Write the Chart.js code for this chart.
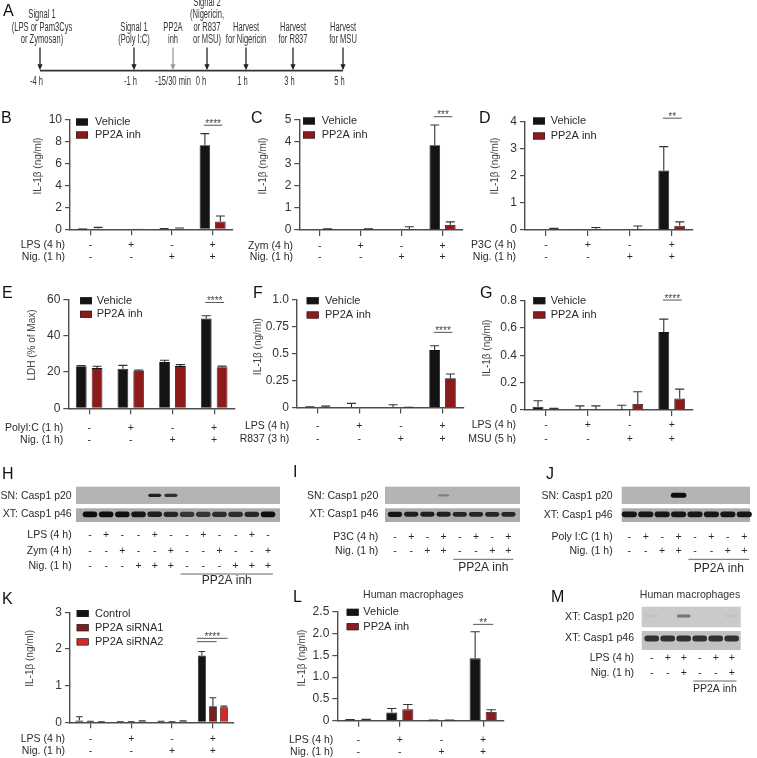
<!DOCTYPE html>
<html><head><meta charset="utf-8">
<script src="https://cdn.jsdelivr.net/npm/chart.js@4.4.1/dist/chart.umd.min.js"></script>
<style>
html,body{margin:0;padding:0;background:#fff}
#fig{position:relative;width:757px;height:758px;overflow:hidden;background:#fff;font-family:"Liberation Sans",Arial,Helvetica,sans-serif}
.lt{position:absolute;font-size:16px;line-height:16px;color:#111;white-space:nowrap}
.tt{position:absolute;font-size:10.5px;line-height:12px;color:#333;white-space:nowrap;transform:translateX(-50%)}
</style></head>
<body><div id="fig"></div>
<script>
// ================= DATA =================
// Panel A timeline
const timelineTimes = ['-4 h', '-1 h', '-15/30 min', '0 h', '1 h', '3 h', '5 h'];
const timelineEvents = [
  ['Signal 1', '(LPS or Pam3Cys', 'or Zymosan)'],
  ['Signal 1', '(Poly I:C)'],
  ['PP2A', 'inh'],
  ['Signal 2', '(Nigericin,', 'or R837', 'or MSU)'],
  ['Harvest', 'for Nigericin'],
  ['Harvest', 'for R837'],
  ['Harvest', 'for MSU']
];
const conditionGroups = ['1', '2', '3', '4'];
const signsA = ['-', '+', '-', '+'];
const signsB = ['-', '-', '+', '+'];

// Panel B
const bVehicle = [0.01, 0, 0.05, 7.7], bVehicleSD = [0.01, 0, 0.03, 1.05];
const bInh = [0.08, 0.01, 0.07, 0.72], bInhSD = [0.1, 0, 0.05, 0.5];
const bTicks = [0, 2, 4, 6, 8, 10];
const bRows = ['LPS (4 h)', 'Nig. (1 h)'];
// Panel C
const cVehicle = [0, 0, 0, 3.85], cVehicleSD = [0, 0, 0, 0.92];
const cInh = [0.05, 0.04, 0.05, 0.23], cInhSD = [0.01, 0.01, 0.1, 0.14];
const cTicks = [0, 1, 2, 3, 4, 5];
const cRows = ['Zym (4 h)', 'Nig. (1 h)'];
// Panel D
const dVehicle = [0, 0.03, 0, 2.2], dVehicleSD = [0, 0, 0, 0.88];
const dInh = [0.03, 0.04, 0.04, 0.16], dInhSD = [0.03, 0.05, 0.11, 0.14];
const dTicks = [0, 1, 2, 3, 4];
const dRows = ['P3C (4 h)', 'Nig. (1 h)'];
// Panel E
const eVehicle = [23.1, 21.8, 25.4, 49.4], eVehicleSD = [0.4, 1.8, 1.0, 1.5];
const eInh = [22.1, 20.5, 23.2, 22.6], eInhSD = [1.0, 0.5, 0.8, 0.6];
const eTicks = [0, 20, 40, 60];
const eRows = ['PolyI:C (1 h)', 'Nig. (1 h)'];
// Panel F
const fVehicle = [0.005, 0.003, 0.003, 0.53], fVehicleSD = [0.002, 0.035, 0.022, 0.04];
const fInh = [0.005, 0, 0, 0.27], fInhSD = [0.008, 0, 0.003, 0.04];
const fTicks = [0, 0.25, 0.5, 0.75, 1.0];
const fTickLabels = ['0', '0.25', '0.5', '0.75', '1.0'];
const fRows = ['LPS (4 h)', 'R837 (3 h)'];
// Panel G
const gVehicle = [0.024, 0, 0, 0.57], gVehicleSD = [0.044, 0.03, 0.035, 0.095];
const gInh = [0, 0, 0.044, 0.085], gInhSD = [0.012, 0.03, 0.09, 0.068];
const gTicks = [0, 0.2, 0.4, 0.6, 0.8];
const gTickLabels = ['0', '0.2', '0.4', '0.6', '0.8'];
const gRows = ['LPS (4 h)', 'MSU (5 h)'];
// Panel K
const kControl = [0.05, 0.01, 0.02, 1.82], kControlSD = [0.1, 0.005, 0.01, 0.11];
const kSi1 = [0.02, 0.01, 0.01, 0.44], kSi1SD = [0.01, 0.005, 0.005, 0.23];
const kSi2 = [0.01, 0.03, 0.03, 0.41], kSi2SD = [0.005, 0.01, 0.01, 0.03];
const kTicks = [0, 1, 2, 3];
const kRows = ['LPS (4 h)', 'Nig. (1 h)'];
// Panel L
const lVehicle = [0.02, 0.19, 0.01, 1.43], lVehicleSD = [0.005, 0.09, 0.005, 0.61];
const lInh = [0.02, 0.26, 0.01, 0.2], lInhSD = [0.01, 0.11, 0.005, 0.05];
const lTicks = [0, 0.5, 1, 1.5, 2, 2.5];
const lTickLabels = ['0', '0.5', '1.0', '1.5', '2.0', '2.5'];
const lRows = ['LPS (4 h)', 'Nig. (1 h)'];

// Blots (lane conditions and estimated band intensities 0..1)
const hLanes = ['1','2','3','4','5','6','7','8','9','10','11','12'];
const hLPS = ['-','+','-','-','+','-','-','+','-','-','+','-'];
const hZym = ['-','-','+','-','-','+','-','-','+','-','-','+'];
const hNig = ['-','-','-','+','+','+','-','-','-','+','+','+'];
const hP20 = [0,0,0,0,0.9,0.8,0,0,0,0,0,0];
const hP46 = [1,1,1,0.95,0.9,0.85,0.75,0.75,0.8,0.8,0.85,1];
const iLanes = ['1','2','3','4','5','6','7','8'];
const iP3C = ['-','+','-','+','-','+','-','+'];
const iNig = ['-','-','+','+','-','-','+','+'];
const iP20 = [0,0,0,0.3,0,0,0,0];
const iP46 = [0.95,0.9,0.9,0.9,0.85,0.85,0.85,0.85];
const jLanes = ['1','2','3','4','5','6','7','8'];
const jPolyIC = ['-','+','-','+','-','+','-','+'];
const jNig = ['-','-','+','+','-','-','+','+'];
const jP20 = [0,0,0,1,0,0,0,0];
const jP46 = [0.95,0.95,0.95,0.95,0.95,0.95,0.95,0.95];
const mLanes = ['1','2','3','4','5','6'];
const mLPS = ['-','+','+','-','+','+'];
const mNig = ['-','-','+','-','-','+'];
const mP20 = [0.05,0,0.45,0,0,0.05];
const mP46 = [0.8,0.8,0.8,0.8,0.8,0.8];

// ================= STYLE / LAYOUT =================
const FONT = '"Liberation Sans", Arial, Helvetica, sans-serif';
const AX = '#4d4d4d', TXT = '#2a2a2a';
const BLACK = '#141414', RED = '#8e1b1b', DARKRED = '#7a1e1e', BRIGHTRED = '#d02a2a';
Chart.defaults.font.family = FONT;
Chart.defaults.color = TXT;
const fig = document.getElementById('fig');

// schematic positions of the timeline arrows (layout, not data)
const TL_POS = [40, 134, 173, 207, 246, 293, 343];

function mkCanvas(box) {
  const [x0, y0, x1, y1] = box;
  const c = document.createElement('canvas');
  c.width = x1 - x0; c.height = y1 - y0;
  c.style.cssText = `position:absolute;left:${x0}px;top:${y0}px;width:${x1-x0}px;height:${y1-y0}px`;
  fig.appendChild(c);
  return c;
}
function txt(ctx, s, x, y, size, align, color, base) {
  ctx.font = `${size}px ${FONT}`;
  ctx.fillStyle = color || TXT;
  ctx.textAlign = align || 'center';
  ctx.textBaseline = base || 'middle';
  ctx.fillText(s, x, y);
}

function barChart(L, S) {
  const [bx0, by0, bx1, by1] = L.box;
  const canvas = mkCanvas(L.box);
  const px = x => x - bx0, py = y => y - by0;
  const plugin = {
    id: 'panel',
    afterDatasetsDraw(chart) {
      const ctx = chart.ctx, xs = chart.scales.x, ys = chart.scales.y;
      ctx.save();
      // error bars (upper only)
      chart.data.datasets.forEach((ds, di) => {
        const meta = chart.getDatasetMeta(di);
        meta.data.forEach((bar, i) => {
          const sd = ds.sd[i]; if (!sd) return;
          const yt = ys.getPixelForValue(ds.data[i] + sd);
          const hw = bar.width * 0.42;
          ctx.strokeStyle = '#333'; ctx.lineWidth = 1.1;
          ctx.beginPath();
          ctx.moveTo(bar.x, bar.y); ctx.lineTo(bar.x, yt);
          ctx.moveTo(bar.x - hw, yt); ctx.lineTo(bar.x + hw, yt);
          ctx.stroke();
        });
      });
      // significance
      (S.sig || []).forEach(s => {
        const xa = chart.getDatasetMeta(s.a).data[s.group].x + (s.dx1 ?? -1);
        const xb = chart.getDatasetMeta(s.b).data[s.group].x + (s.dx2 ?? 2);
        const y = ys.getPixelForValue(s.y);
        ctx.strokeStyle = '#555'; ctx.lineWidth = 1;
        ctx.beginPath(); ctx.moveTo(xa, y); ctx.lineTo(xb, y); ctx.stroke();
        if (s.text) txt(ctx, s.text, (xa + xb) / 2, y + 1.5, 10, 'center', '#444', 'alphabetic');
      });
      // legend
      S.series.forEach((s, j) => {
        const y = py(L.legY[j]);
        ctx.fillStyle = s.color;
        ctx.fillRect(px(L.legX), y - 3.5, 12, 7);
        ctx.strokeStyle = '#222'; ctx.lineWidth = 0.6;
        ctx.strokeRect(px(L.legX) + 0.3, y - 3.2, 11.4, 6.4);
        txt(ctx, s.label, px(L.legTextX), y, 11, 'left');
      });
      // y title
      ctx.save();
      ctx.translate(px(L.yTitle[0]), py(L.yTitle[1]));
      ctx.rotate(-Math.PI / 2);
      txt(ctx, S.yTitle, 0, 0, 10, 'center', '#444');
      ctx.restore();
      // condition rows
      S.rows.forEach((r, k) => {
        const y = py(L.rowY[k]);
        txt(ctx, r, px(L.rowRight), y, 10.5, 'right');
        S.signs[k].forEach((sg, i) => txt(ctx, sg, xs.getPixelForValue(i), y, 10.5, 'center'));
      });
      ctx.restore();
    }
  };
  return new Chart(canvas, {
    type: 'bar',
    data: {
      labels: S.categories,
      datasets: S.series.map(s => ({
        label: s.label, data: s.data, sd: s.sd,
        backgroundColor: s.color, borderColor: '#1a1212', borderWidth: 0.8,
        categoryPercentage: L.cp, barPercentage: L.bp
      }))
    },
    options: {
      responsive: false, animation: false, events: [],
      layout: { padding: { left: 0, top: L.topY - by0, right: bx1 - L.rightX, bottom: 0 } },
      plugins: { legend: { display: false }, tooltip: { enabled: false } },
      scales: {
        x: {
          type: 'category', offset: true,
          grid: { offset: false, drawOnChartArea: false, drawTicks: true, tickLength: 6, color: AX, lineWidth: 1.2 },
          border: { color: AX, width: 1.4 },
          ticks: { display: false },
          afterFit: s => { s.height = by1 - L.axisY; }
        },
        y: {
          min: 0, max: S.yMax,
          afterBuildTicks: s => { s.ticks = S.ticks.map(v => ({ value: v })); },
          ticks: { callback: (v, i) => S.tickLabels ? S.tickLabels[i] : String(v), font: { size: 12 }, color: '#333', padding: 3 },
          grid: { drawOnChartArea: false, tickLength: 5, color: AX, lineWidth: 1.2 },
          border: { color: AX, width: 1.4 },
          afterFit: s => { s.width = L.axisX - bx0; }
        }
      }
    },
    plugins: [plugin]
  });
}

function blotChart(L, S) {
  const [bx0, by0, bx1, by1] = L.box;
  const canvas = mkCanvas(L.box);
  const px = x => x - bx0, py = y => y - by0;
  const first = L.strips[0], last = L.strips[L.strips.length - 1];
  const plugin = {
    id: 'blot',
    afterDraw(chart) {
      const ctx = chart.ctx, xs = chart.scales.x;
      const sp = xs.getPixelForValue(1) - xs.getPixelForValue(0);
      ctx.save();
      L.strips.forEach((st, k) => {
        ctx.fillStyle = st.color;
        ctx.fillRect(px(L.stripX[0]), py(st.y0), L.stripX[1] - L.stripX[0], st.y1 - st.y0);
        const cy = (py(st.y0) + py(st.y1)) / 2 + (st.dy || 0);
        S.strips[k].intensity.forEach((v, i) => {
          if (v <= 0) return;
          const x = xs.getPixelForValue(i);
          const w = sp * (st.bw || 0.86);
          const h = st.bh * (0.55 + 0.45 * v);
          ctx.filter = 'blur(0.7px)';
          ctx.fillStyle = `rgba(14,14,14,${Math.min(1, v)})`;
          ctx.beginPath();
          ctx.roundRect(x - w / 2, cy - h / 2, w, h, h / 2);
          ctx.fill();
          ctx.filter = 'none';
        });
        txt(ctx, S.strips[k].label, px(L.labelRight), py(st.labelY), 10.5, 'right');
      });
      S.rows.forEach((r, k) => {
        const y = py(L.rowY[k]);
        txt(ctx, r, px(L.rowRight), y, 10.5, 'right');
        S.signs[k].forEach((sg, i) => txt(ctx, sg, xs.getPixelForValue(i), y, 10.5, 'center'));
      });
      const xa = xs.getPixelForValue(S.bracket.from) - 0.4 * sp;
      const xb = xs.getPixelForValue(S.bracket.to) + 0.3 * sp;
      ctx.strokeStyle = '#666'; ctx.lineWidth = 1;
      ctx.beginPath(); ctx.moveTo(xa, py(L.bracketY)); ctx.lineTo(xb, py(L.bracketY)); ctx.stroke();
      txt(ctx, S.bracket.text, (xa + xb) / 2, py(L.bracketTextY), L.bracketFont, 'center');
      ctx.restore();
    }
  };
  return new Chart(canvas, {
    type: 'bar',
    data: { labels: S.lanes, datasets: S.strips.map(s => ({ label: s.label, data: s.intensity, backgroundColor: 'rgba(0,0,0,0)' })) },
    options: {
      responsive: false, animation: false, events: [],
      layout: { padding: { left: px(L.laneL), right: bx1 - L.laneR, top: py(first.y0), bottom: by1 - last.y1 } },
      plugins: { legend: { display: false }, tooltip: { enabled: false } },
      scales: { x: { display: false }, y: { display: false, min: 0, max: 1 } }
    },
    plugins: [plugin]
  });
}

function timelineChart() {
  const canvas = mkCanvas([0, 0, 757, 100]);
  const plugin = {
    id: 'timeline',
    afterDraw(chart) {
      const ctx = chart.ctx, xs = chart.scales.x;
      const LY = 70.7;
      ctx.save();
      const x0 = xs.getPixelForValue(TL_POS[0]), x1 = xs.getPixelForValue(TL_POS[TL_POS.length - 1]);
      ctx.strokeStyle = '#333'; ctx.lineWidth = 1.8;
      ctx.beginPath(); ctx.moveTo(x0, LY); ctx.lineTo(x1, LY); ctx.stroke();
      const cond = (s, x, y) => {
        ctx.save(); ctx.translate(x, y); ctx.scale(0.63, 1);
        txt(ctx, s, 0, 0, 12, 'center', '#333'); ctx.restore();
      };
      timelineEvents.forEach((lines, i) => {
        const x = xs.getPixelForValue(TL_POS[i]);
        const col = i === 2 ? '#9a9a9a' : '#222';
        ctx.strokeStyle = col; ctx.fillStyle = col; ctx.lineWidth = 1.3;
        ctx.beginPath(); ctx.moveTo(x, 47.5); ctx.lineTo(x, LY - 4); ctx.stroke();
        ctx.beginPath(); ctx.moveTo(x - 2.6, LY - 6.5); ctx.lineTo(x + 2.6, LY - 6.5); ctx.lineTo(x, LY - 0.5); ctx.closePath(); ctx.fill();
        const n = lines.length;
        lines.forEach((s, k) => cond(s, x + (i === 0 ? 2 : 0), 40 - (n - 1 - k) * 12.5));
        cond(timelineTimes[i], x - (i === 2 ? 0 : i === 3 ? 6 : 3.5), 82);
      });
      ctx.restore();
    }
  };
  new Chart(canvas, {
    type: 'scatter',
    data: { datasets: [{ data: TL_POS.map(p => ({ x: p, y: 0.5 })), pointRadius: 0 }] },
    options: {
      responsive: false, animation: false, events: [],
      layout: { padding: 0 },
      plugins: { legend: { display: false }, tooltip: { enabled: false } },
      scales: { x: { type: 'linear', display: false, min: 0, max: 757 }, y: { display: false, min: 0, max: 1 } }
    },
    plugins: [plugin]
  });
}

// ================= BUILD =================
timelineChart();

const vehInh = (v, vsd, p, psd) => [
  { label: 'Vehicle', data: v, sd: vsd, color: BLACK },
  { label: 'PP2A inh', data: p, sd: psd, color: RED }
];
const L2 = { cp: 0.76, bp: 0.68 };

barChart({ ...L2, box: [18, 106, 246, 263], axisX: 70, axisY: 229.3, topY: 120, rightX: 233, yTitle: [38, 166],
  legX: 76, legY: [122, 135], legTextX: 95, rowRight: 65, rowY: [245, 257] },
  { categories: conditionGroups, series: vehInh(bVehicle, bVehicleSD, bInh, bInhSD), yMax: 10, ticks: bTicks,
    yTitle: 'IL-1β (ng/ml)', rows: bRows, signs: [signsA, signsB], sig: [{ group: 3, a: 0, b: 1, y: 9.52, text: '****' }] });

barChart({ ...L2, box: [246, 106, 474, 263], axisX: 299.3, axisY: 230, topY: 120, rightX: 463, yTitle: [263, 166],
  legX: 303, legY: [121, 135], legTextX: 321.7, rowRight: 293, rowY: [246, 257] },
  { categories: conditionGroups, series: vehInh(cVehicle, cVehicleSD, cInh, cInhSD), yMax: 5, ticks: cTicks,
    yTitle: 'IL-1β (ng/ml)', rows: cRows, signs: [signsA, signsB], sig: [{ group: 3, a: 0, b: 1, y: 5.15, text: '***' }] });

barChart({ ...L2, box: [466, 106, 702, 263], axisX: 525, axisY: 230, topY: 121.7, rightX: 692.7, yTitle: [495, 166],
  legX: 533, legY: [121, 136], legTextX: 550.7, rowRight: 516, rowY: [245, 256.7] },
  { categories: conditionGroups, series: vehInh(dVehicle, dVehicleSD, dInh, dInhSD), yMax: 4, ticks: dTicks,
    yTitle: 'IL-1β (ng/ml)', rows: dRows, signs: [signsA, signsB], sig: [{ group: 3, a: 0, b: 1, y: 4.13, text: '**' }] });

barChart({ ...L2, box: [0, 289, 246, 448], axisX: 68.3, axisY: 408.3, topY: 298.3, rightX: 235, yTitle: [32.7, 345],
  legX: 80, legY: [300.7, 314.3], legTextX: 96.7, rowRight: 63.3, rowY: [427.7, 440] },
  { categories: conditionGroups, series: vehInh(eVehicle, eVehicleSD, eInh, eInhSD), yMax: 60, ticks: eTicks,
    yTitle: 'LDH (% of Max)', rows: eRows, signs: [signsA, signsB], sig: [{ group: 3, a: 0, b: 1, y: 58.2, text: '****' }] });

barChart({ ...L2, box: [228, 289, 474, 448], axisX: 297, axisY: 407.5, topY: 298.3, rightX: 463.3, yTitle: [258.3, 346.7],
  legX: 306.7, legY: [300.7, 315], legTextX: 325, rowRight: 289.3, rowY: [425.7, 439] },
  { categories: conditionGroups, series: vehInh(fVehicle, fVehicleSD, fInh, fInhSD), yMax: 1.0, ticks: fTicks, tickLabels: fTickLabels,
    yTitle: 'IL-1β (ng/ml)', rows: fRows, signs: [signsA, signsB], sig: [{ group: 3, a: 0, b: 1, y: 0.694, text: '****' }] });

barChart({ ...L2, box: [462, 289, 702, 448], axisX: 525, axisY: 410, topY: 300.7, rightX: 692.7, yTitle: [487.3, 348],
  legX: 533.3, legY: [300.7, 315], legTextX: 550.7, rowRight: 516, rowY: [425, 439] },
  { categories: conditionGroups, series: vehInh(gVehicle, gVehicleSD, gInh, gInhSD), yMax: 0.8, ticks: gTicks, tickLabels: gTickLabels,
    yTitle: 'IL-1β (ng/ml)', rows: gRows, signs: [signsA, signsB], sig: [{ group: 3, a: 0, b: 1, y: 0.805, text: '****' }] });

barChart({ cp: 0.81, bp: 0.73, box: [0, 595, 246, 758], axisX: 70, axisY: 722.3, topY: 612.3, rightX: 233.3, yTitle: [30, 658.3],
  legX: 76.7, legY: [613.5, 627.7, 641.9], legTextX: 95, rowRight: 65, rowY: [739, 751] },
  { categories: conditionGroups, series: [
      { label: 'Control', data: kControl, sd: kControlSD, color: BLACK },
      { label: 'PP2A siRNA1', data: kSi1, sd: kSi1SD, color: DARKRED },
      { label: 'PP2A siRNA2', data: kSi2, sd: kSi2SD, color: BRIGHTRED }],
    yMax: 3, ticks: kTicks, yTitle: 'IL-1β (ng/ml)', rows: kRows, signs: [signsA, signsB],
    sig: [{ group: 3, a: 0, b: 2, y: 2.29, text: '****', dx1: -5, dx2: 3.7 }, { group: 3, a: 0, b: 1, y: 2.2, dx1: -5, dx2: 3.7 }] });

barChart({ cp: 0.77, bp: 0.69, box: [270, 600, 512, 758], axisX: 337.3, axisY: 720.7, topY: 611.7, rightX: 504, yTitle: [302.7, 658],
  legX: 346.7, legY: [612.3, 626.7], legTextX: 363.3, rowRight: 333.3, rowY: [740, 751.7] },
  { categories: conditionGroups, series: vehInh(lVehicle, lVehicleSD, lInh, lInhSD), yMax: 2.5, ticks: lTicks, tickLabels: lTickLabels,
    yTitle: 'IL-1β (ng/ml)', rows: lRows, signs: [signsA, signsB], sig: [{ group: 3, a: 0, b: 1, y: 2.21, text: '**', dx1: -2, dx2: 2 }] });

// Blots
const stripsHIJ = [
  { y0: 486.7, y1: 504, color: '#b4b4b4', labelY: 495.7, dy: 0 },
  { y0: 508.3, y1: 522, color: '#ababab', labelY: 514.5, dy: -0.8 }
];
blotChart({ box: [0, 480, 292, 590], laneL: 81.9, laneR: 276.1, stripX: [76, 280],
  strips: [{ ...stripsHIJ[0], bh: 3.6, bw: 0.8 }, { ...stripsHIJ[1], bh: 5.8, bw: 0.9 }],
  labelRight: 71.7, rowRight: 71.7, rowY: [535, 550.7, 566], bracketY: 574, bracketTextY: 581, bracketFont: 12 },
  { lanes: hLanes, strips: [{ label: 'SN: Casp1 p20', intensity: hP20 }, { label: 'XT: Casp1 p46', intensity: hP46 }],
    rows: ['LPS (4 h)', 'Zym (4 h)', 'Nig. (1 h)'], signs: [hLPS, hZym, hNig], bracket: { from: 6, to: 11, text: 'PP2A inh' } });

blotChart({ box: [280, 480, 530, 590], laneL: 386.9, laneR: 516.5, stripX: [385, 520],
  strips: [{ ...stripsHIJ[0], bh: 3.0, bw: 0.7 }, { ...stripsHIJ[1], bh: 5.2, bw: 0.88 }],
  labelRight: 378.3, rowRight: 378.3, rowY: [536.7, 550.7], bracketY: 559.3, bracketTextY: 567.3, bracketFont: 12 },
  { lanes: iLanes, strips: [{ label: 'SN: Casp1 p20', intensity: iP20 }, { label: 'XT: Casp1 p46', intensity: iP46 }],
    rows: ['P3C (4 h)', 'Nig. (1 h)'], signs: [iP3C, iNig], bracket: { from: 4, to: 7, text: 'PP2A inh' } });

blotChart({ box: [520, 480, 757, 590], laneL: 621.1, laneR: 752.5, stripX: [621.7, 750],
  strips: [{ ...stripsHIJ[0], labelY: 496, bh: 5.0, bw: 0.95 }, { ...stripsHIJ[1], labelY: 515, bh: 5.8, bw: 0.92 }],
  labelRight: 612.7, rowRight: 612.7, rowY: [536.7, 550.7], bracketY: 559.3, bracketTextY: 568.3, bracketFont: 12 },
  { lanes: jLanes, strips: [{ label: 'SN: Casp1 p20', intensity: jP20 }, { label: 'XT: Casp1 p46', intensity: jP46 }],
    rows: ['Poly I:C (1 h)', 'Nig. (1 h)'], signs: [jPolyIC, jNig], bracket: { from: 4, to: 7, text: 'PP2A inh' } });

blotChart({ box: [560, 600, 757, 700], laneL: 643.7, laneR: 739.7, stripX: [641.7, 740.7],
  strips: [{ y0: 606.7, y1: 627.3, color: '#cacaca', labelY: 617.3, dy: -1, bh: 4.0, bw: 0.85 },
           { y0: 631, y1: 650, color: '#c2c2c2', labelY: 638.3, dy: -2, bh: 6.5, bw: 0.92 }],
  labelRight: 634, rowRight: 634, rowY: [658.3, 673.3], bracketY: 681, bracketTextY: 689, bracketFont: 10.5 },
  { lanes: mLanes, strips: [{ label: 'XT: Casp1 p20', intensity: mP20 }, { label: 'XT: Casp1 p46', intensity: mP46 }],
    rows: ['LPS (4 h)', 'Nig. (1 h)'], signs: [mLPS, mNig], bracket: { from: 3, to: 5, text: 'PP2A inh' } });

// Panel letters and titles (text positions)
[['A', 3, 3], ['B', 1, 110], ['C', 251, 110], ['D', 479, 110], ['E', 2, 285], ['F', 253, 285], ['G', 480, 285],
 ['H', 2, 466], ['I', 293, 464], ['J', 546, 466], ['K', 2, 591], ['L', 293, 589], ['M', 551, 589]].forEach(([t, x, y]) => {
  const d = document.createElement('div'); d.className = 'lt'; d.textContent = t;
  d.style.left = x + 'px'; d.style.top = y + 'px'; fig.appendChild(d);
});
[['Human macrophages', 413.3, 588], ['Human macrophages', 690, 588]].forEach(([t, x, y]) => {
  const d = document.createElement('div'); d.className = 'tt'; d.textContent = t;
  d.style.left = x + 'px'; d.style.top = y + 'px'; fig.appendChild(d);
});
</script>
</body></html>
